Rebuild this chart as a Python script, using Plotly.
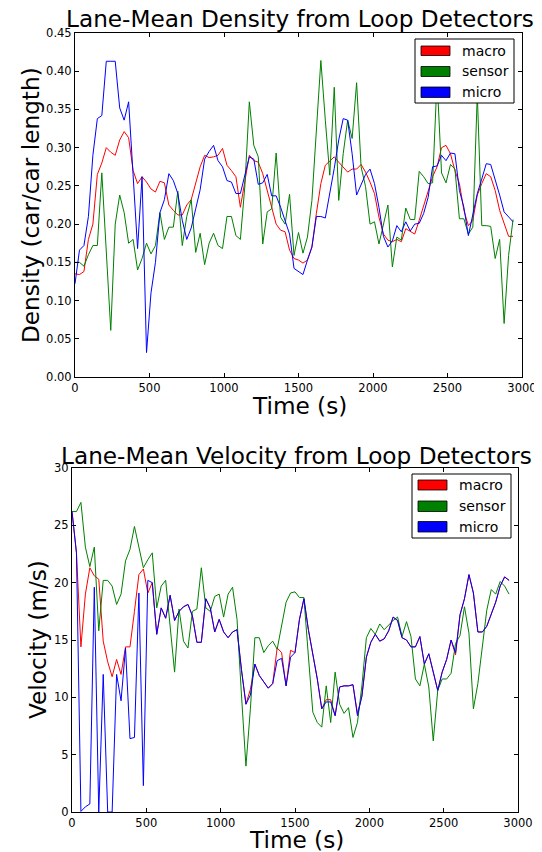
import plotly.graph_objects as go

# time (s)
time_s = [0, 30, 60, 90, 120, 150, 180, 210, 240, 270, 300, 330, 360, 390, 420, 450, 480, 510, 540, 570,
          600, 630, 660, 690, 720, 750, 780, 810, 840, 870, 900, 930, 960, 990, 1020, 1050, 1080, 1110, 1140, 1170,
          1200, 1230, 1260, 1290, 1320, 1350, 1380, 1410, 1440, 1470, 1500, 1530, 1560, 1590, 1620, 1650, 1680, 1710, 1740, 1770,
          1800, 1830, 1860, 1890, 1920, 1950, 1980, 2010, 2040, 2070, 2100, 2130, 2160, 2190, 2220, 2250, 2280, 2310, 2340, 2370,
          2400, 2430, 2460, 2490, 2520, 2550, 2580, 2610, 2640, 2670, 2700, 2730, 2760, 2790, 2820, 2850, 2880, 2910, 2940]

# Density (car/car length)
density_macro = [0.135, 0.134, 0.138, 0.18, 0.2, 0.265, 0.28, 0.3, 0.294, 0.29, 0.31, 0.321, 0.313, 0.27, 0.253, 0.262, 0.255, 0.246, 0.242, 0.256,
                 0.254, 0.225, 0.218, 0.212, 0.212, 0.225, 0.232, 0.255, 0.275, 0.29, 0.287, 0.288, 0.29, 0.299, 0.277, 0.27, 0.262, 0.222, 0.257, 0.29,
                 0.283, 0.281, 0.266, 0.244, 0.222, 0.2, 0.192, 0.19, 0.166, 0.155, 0.153, 0.149, 0.153, 0.17, 0.214, 0.253, 0.277, 0.283, 0.288, 0.281,
                 0.275, 0.268, 0.272, 0.272, 0.278, 0.268, 0.255, 0.24, 0.209, 0.187, 0.179, 0.177, 0.18, 0.177, 0.194, 0.19, 0.187, 0.205, 0.223, 0.244,
                 0.262, 0.275, 0.3, 0.303, 0.292, 0.27, 0.253, 0.218, 0.198, 0.205, 0.238, 0.253, 0.266, 0.262, 0.244, 0.218, 0.2, 0.184, 0.184]
density_sensor = [0.15, 0.15, 0.145, 0.16, 0.172, 0.172, 0.267, 0.165, 0.061, 0.2, 0.238, 0.215, 0.175, 0.18, 0.14, 0.155, 0.175, 0.161, 0.172, 0.215,
                  0.18, 0.196, 0.196, 0.243, 0.172, 0.21, 0.232, 0.163, 0.188, 0.147, 0.175, 0.188, 0.172, 0.168, 0.21, 0.21, 0.185, 0.18, 0.25, 0.36,
                  0.303, 0.288, 0.174, 0.216, 0.22, 0.293, 0.209, 0.2, 0.239, 0.159, 0.189, 0.162, 0.183, 0.231, 0.327, 0.414, 0.336, 0.264, 0.379, 0.231,
                  0.292, 0.336, 0.312, 0.385, 0.275, 0.249, 0.2, 0.203, 0.174, 0.2, 0.225, 0.144, 0.183, 0.179, 0.221, 0.206, 0.206, 0.269, 0.262, 0.253,
                  0.254, 0.39, 0.267, 0.254, 0.278, 0.272, 0.207, 0.207, 0.187, 0.196, 0.37, 0.198, 0.198, 0.197, 0.155, 0.18, 0.07, 0.159, 0.206]
density_micro = [0.122, 0.166, 0.172, 0.21, 0.29, 0.338, 0.342, 0.413, 0.413, 0.413, 0.352, 0.336, 0.36, 0.265, 0.168, 0.262, 0.032, 0.11, 0.15, 0.215,
                 0.232, 0.266, 0.257, 0.24, 0.205, 0.18, 0.195, 0.22, 0.245, 0.285, 0.295, 0.303, 0.283, 0.275, 0.257, 0.255, 0.24, 0.24, 0.264, 0.288,
                 0.285, 0.252, 0.254, 0.265, 0.237, 0.237, 0.222, 0.205, 0.187, 0.142, 0.138, 0.134, 0.153, 0.17, 0.21, 0.21, 0.208, 0.24, 0.273, 0.31,
                 0.338, 0.336, 0.292, 0.238, 0.251, 0.265, 0.272, 0.253, 0.222, 0.184, 0.17, 0.178, 0.198, 0.19, 0.203, 0.191, 0.2, 0.201, 0.214, 0.235,
                 0.275, 0.276, 0.29, 0.283, 0.293, 0.292, 0.244, 0.222, 0.185, 0.211, 0.24, 0.259, 0.279, 0.278, 0.259, 0.238, 0.216, 0.209, 0.203]

# Velocity (m/s)
velocity_macro = [26.2, 22.6, 14.4, 19.0, 21.3, 20.6, 20.3, 14.9, 13.1, 11.8, 13.3, 12.0, 14.4, 14.4, 17.5, 20.7, 21.2, 19.1, 20.0, 15.5,
                  17.8, 16.9, 18.9, 16.7, 17.5, 17.9, 18.1, 17.1, 14.8, 14.8, 18.6, 17.8, 15.7, 16.8, 15.7, 15.2, 15.7, 15.9, 12.4, 9.4,
                  10.7, 12.9, 11.9, 11.3, 10.8, 11.2, 14.3, 13.9, 11.0, 14.1, 13.9, 16.8, 18.6, 15.9, 13.9, 11.6, 9.0, 9.8, 9.8, 8.4,
                  10.9, 11.0, 11.0, 11.1, 8.6, 10.1, 13.5, 14.8, 15.5, 14.9, 15.1, 15.8, 17.0, 16.7, 15.2, 15.0, 14.4, 14.4, 15.3, 12.9,
                  13.8, 12.1, 10.6, 12.2, 13.3, 15.0, 13.7, 17.2, 18.6, 20.7, 19.1, 15.7, 15.7, 16.2, 17.2, 18.3, 19.7, 20.5, 20.2]
velocity_sensor = [26.2, 26.2, 27.0, 23.1, 21.4, 23.1, 15.8, 20.2, 20.2, 19.7, 18.1, 19.0, 21.9, 22.9, 24.9, 23.1, 21.3, 22.0, 22.6, 17.8,
                   19.7, 20.2, 16.2, 12.2, 17.7, 14.9, 14.3, 17.5, 17.7, 21.3, 17.8, 17.5, 18.8, 19.0, 17.0, 19.0, 19.6, 16.8, 10.2, 4.0,
                   9.0, 15.2, 15.2, 13.9, 14.5, 14.9, 14.2, 16.4, 18.3, 19.1, 19.2, 18.7, 18.7, 13.6, 8.7, 7.8, 7.4, 11.0, 7.8, 12.2,
                   9.4, 8.6, 9.1, 6.5, 7.8, 11.0, 15.2, 16.0, 15.5, 16.4, 15.9, 16.3, 16.7, 17.0, 15.3, 16.6, 15.3, 11.6, 11.0, 12.9,
                   10.9, 6.2, 10.6, 11.6, 11.6, 12.1, 14.7, 15.4, 17.9, 15.6, 9.0, 11.2, 14.2, 17.6, 19.4, 19.0, 20.1, 19.7, 19.0]
velocity_micro = [26.2, 22.6, 0.05, 0.45, 0.7, 19.6, 0.0, 12.0, 0.0, 0.0, 12.0, 9.7, 14.3, 6.4, 6.5, 19.1, 2.3, 20.2, 20.0, 15.5,
                  17.8, 16.9, 18.9, 16.7, 17.5, 17.9, 18.1, 17.1, 14.8, 14.8, 18.6, 17.8, 15.7, 16.8, 15.7, 15.2, 15.7, 15.9, 12.4, 9.4,
                  10.2, 12.9, 11.9, 11.3, 10.8, 11.2, 13.2, 13.4, 11.0, 13.5, 13.9, 16.8, 18.6, 15.9, 13.9, 11.6, 9.0, 9.6, 9.6, 8.4,
                  10.9, 11.0, 11.0, 11.1, 8.4, 10.1, 13.5, 14.8, 15.5, 14.9, 15.1, 15.8, 17.0, 16.7, 15.2, 15.0, 14.4, 14.4, 15.3, 12.9,
                  13.8, 12.1, 10.6, 12.2, 13.3, 15.0, 13.9, 17.2, 18.6, 20.7, 19.1, 15.7, 15.7, 16.2, 17.2, 18.3, 19.7, 20.5, 20.2]

series_names = ["macro", "sensor", "micro"]
series_colors = ["#ff0000", "#008000", "#0000ff"]

x_ticks = [0, 500, 1000, 1500, 2000, 2500, 3000]
density_ticks = [0.0, 0.05, 0.1, 0.15, 0.2, 0.25, 0.3, 0.35, 0.4, 0.45]
velocity_ticks = [0, 5, 10, 15, 20, 25, 30]

# the page body has an 8px margin, so the figure is drawn 8px smaller and offset
OFF = 8
W, H = 542 - OFF, 852 - OFF
FONT = "DejaVu Sans"

def px(x):
    return (x - OFF) / W

def py(y):
    return 1 - (y - OFF) / H

fig = go.Figure()
for name, color, ys in zip(series_names, series_colors, [density_macro, density_sensor, density_micro]):
    fig.add_trace(go.Scatter(x=time_s, y=ys, mode="lines", name=name, line=dict(color=color, width=1),
                             xaxis="x", yaxis="y", showlegend=False))
for name, color, ys in zip(series_names, series_colors, [velocity_macro, velocity_sensor, velocity_micro]):
    fig.add_trace(go.Scatter(x=time_s, y=ys, mode="lines", name=name, line=dict(color=color, width=1),
                             xaxis="x2", yaxis="y2", showlegend=False))

axis_common = dict(showline=True, linecolor="black", linewidth=1, mirror="ticks", ticks="inside",
                   ticklen=4, tickwidth=1, tickcolor="black", showgrid=False, zeroline=False,
                   automargin=False,
                   tickfont=dict(family=FONT, size=11.5, color="black"))

top_dom_x = [px(75), px(522)]
top_dom_y = [py(377), py(33)]
bot_dom_x = [px(72), px(518)]
bot_dom_y = [py(812), py(468)]

fig.update_layout(
    width=W, height=H, autosize=False,
    margin=dict(l=0, r=0, t=0, b=0, autoexpand=False),
    paper_bgcolor="white", plot_bgcolor="white",
    xaxis=dict(domain=top_dom_x, anchor="y", range=[0, 3000], tickvals=x_ticks, **axis_common),
    yaxis=dict(domain=top_dom_y, anchor="x", range=[0, 0.45], tickvals=density_ticks, tickformat=".2f", **axis_common),
    xaxis2=dict(domain=bot_dom_x, anchor="y2", range=[0, 3000], tickvals=x_ticks, **axis_common),
    yaxis2=dict(domain=bot_dom_y, anchor="x2", range=[0, 30], tickvals=velocity_ticks, **axis_common),
    showlegend=False,
)

annotations = []
shapes = []

def text(x, y, s, size, angle=0, xanchor="center"):
    annotations.append(dict(x=px(x), y=py(y), xref="paper", yref="paper", text=s, showarrow=False,
                            xanchor=xanchor, yanchor="middle", textangle=angle,
                            font=dict(family=FONT, size=size, color="black")))

# titles and axis labels
text(300, 19, "Lane-Mean Density from Loop Detectors", 23.2)
text(299.5, 405, "Time (s)", 23.2)
text(30, 205, "Density (car/car length)", 23.2, angle=-90)
text(296, 455, "Lane-Mean Velocity from Loop Detectors", 23.2)
text(296, 839, "Time (s)", 23.2)
text(37, 640, "Velocity (m/s)", 23.2, angle=-90)

def legend(box, patch_x, rows, text_x):
    x0, y0, x1, y1 = box
    shapes.append(dict(type="rect", xref="paper", yref="paper", x0=px(x0), x1=px(x1), y0=py(y1), y1=py(y0),
                       line=dict(color="black", width=1), fillcolor="white", layer="above"))
    for (ry0, ry1), name, color in zip(rows, series_names, series_colors):
        shapes.append(dict(type="rect", xref="paper", yref="paper", x0=px(patch_x[0]), x1=px(patch_x[1]),
                           y0=py(ry1), y1=py(ry0), line=dict(color="black", width=0.8), fillcolor=color,
                           layer="above"))
        text(text_x, (ry0 + ry1) / 2, name, 14, xanchor="left")

legend((415, 39, 514, 103), (421, 450), [(46, 55.5), (66.5, 76.5), (87, 97.5)], 460)
legend((412, 474, 511, 538), (418, 447), [(480, 490), (501, 511.5), (521.5, 532)], 457)

fig.update_layout(annotations=annotations, shapes=shapes)
fig.write_html("out.html")
